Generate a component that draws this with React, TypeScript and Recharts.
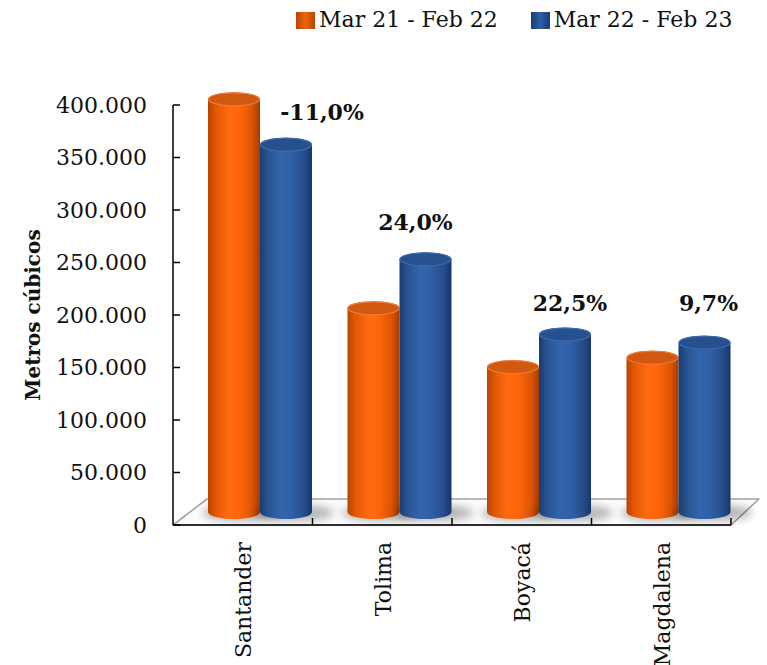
import React from 'react';
import { BarChart, Bar, XAxis, YAxis, Legend, LabelList } from 'recharts';

// ---- data ----
const regions = ['Santander', 'Tolima', 'Boyacá', 'Magdalena'];
const volumePrev = [393000, 194000, 138000, 147000];
const volumeCurr = [349800, 240600, 169000, 161300];
const changeLabels = ['-11,0%', '24,0%', '22,5%', '9,7%'];
const seriesNames = ['Mar 21 - Feb 22', 'Mar 22 - Feb 23'];
const yTicks = [0, 50000, 100000, 150000, 200000, 250000, 300000, 350000, 400000];
const axisTitle = 'Metros cúbicos';

const data = regions.map((region, i) => ({
  region,
  prev: volumePrev[i],
  curr: volumeCurr[i],
  change: changeLabels[i],
}));

// ---- layout ----
const W = 767;
const H = 665;
const X_AXIS_H = 30;
const MARGIN = { top: 105, right: 36, bottom: 140 - X_AXIS_H, left: 73 };
const Y_AXIS_W = 100;
const PLOT_LEFT = MARGIN.left + Y_AXIS_W;
const PLOT_RIGHT = W - MARGIN.right;
const PLOT_TOP = MARGIN.top;
const PLOT_BOTTOM = H - MARGIN.bottom - X_AXIS_H;
const BAND = (PLOT_RIGHT - PLOT_LEFT) / regions.length;
// bars stand half way into the floor's depth
const DEPTH = { dx: 17, dy: -13 };
const FONT = '"DejaVu Serif", serif';

const PALETTES = {
  orange: {
    id: 'cyl-orange',
    stops: ['#B94400', '#E35805', '#FF6A10', '#FF660B', '#DC5404', '#A33C00'],
    top: '#D2570F',
    rim: '#E97B3C',
    swatch: '#F0640A',
  },
  blue: {
    id: 'cyl-blue',
    stops: ['#1A3B72', '#28538F', '#3365AD', '#2F60A7', '#264D8A', '#18356A'],
    top: '#27508F',
    rim: '#3F6AAE',
    swatch: '#2F5EA5',
  },
};
const STOP_OFFSETS = [0, 0.15, 0.4, 0.6, 0.85, 1];

// per-label nudges for the change annotations
const LABEL_NUDGE: [number, number][] = [[36, 2], [-10, -2], [5, 3], [4, -5]];

const fmtThousands = (v: number) =>
  String(v).replace(/\B(?=(\d{3})+(?!\d))/g, '.');

function Cylinder(props: any) {
  const { x, y, width, height, palette } = props;
  if (width == null || height == null) return null;
  const p = (PALETTES as any)[palette];
  const x0 = x + DEPTH.dx;
  const top = y + DEPTH.dy;
  const bottom = y + height + DEPTH.dy;
  const rx = width / 2;
  const ry = 7;
  const cx = x0 + rx;
  const body = `M${x0},${top} L${x0},${bottom} A${rx},${ry} 0 0 0 ${x0 + width},${bottom} L${x0 + width},${top} A${rx},${ry} 0 0 0 ${x0},${top} Z`;
  return (
    <g>
      <defs>
        <linearGradient id={p.id} x1="0" y1="0" x2="1" y2="0">
          {p.stops.map((c: string, i: number) => (
            <stop key={i} offset={STOP_OFFSETS[i]} stopColor={c} />
          ))}
        </linearGradient>
        <filter id="base-blur" x="-60%" y="-200%" width="220%" height="500%">
          <feGaussianBlur stdDeviation="4" />
        </filter>
      </defs>
      <ellipse
        cx={cx + 8}
        cy={bottom + 1}
        rx={rx + 14}
        ry={8}
        fill="#000"
        opacity={0.28}
        filter="url(#base-blur)"
      />
      <path d={body} fill={`url(#${p.id})`} />
      <ellipse cx={cx} cy={top} rx={rx - 0.5} ry={ry - 0.5} fill={p.top} stroke={p.rim} strokeWidth={1.2} />
    </g>
  );
}

function ValueTick(props: any) {
  const { x, y, payload } = props;
  const axisX = PLOT_LEFT;
  return (
    <g>
      <line x1={axisX} x2={axisX + 7} y1={y} y2={y} stroke="#000" strokeWidth={1.5} />
      <text
        x={x}
        y={y}
        textAnchor="end"
        dominantBaseline="central"
        fontFamily={FONT}
        fontSize={22}
        fill="#111"
      >
        {fmtThousands(payload.value)}
      </text>
    </g>
  );
}

function RegionTick(props: any) {
  const { x, y, payload } = props;
  const edge = x + BAND / 2;
  return (
    <g>
      <line x1={edge} x2={edge} y1={PLOT_BOTTOM} y2={PLOT_BOTTOM - 7} stroke="#000" strokeWidth={1.5} />
      <text
        x={x + 1}
        y={y}
        transform={`rotate(-90, ${x + 1}, ${y})`}
        textAnchor="end"
        dominantBaseline="central"
        fontFamily={FONT}
        fontSize={22}
        fill="#111"
      >
        {payload.value}
      </text>
    </g>
  );
}

function ChangeLabel(props: any) {
  const { x, y, width, value, index } = props;
  const [nx, ny] = LABEL_NUDGE[index] || [0, 0];
  const cx = x + width / 2 + DEPTH.dx + nx;
  const cy = y + DEPTH.dy - 35 + ny;
  return (
    <text
      x={cx}
      y={cy}
      textAnchor="middle"
      dominantBaseline="central"
      fontFamily={FONT}
      fontWeight="bold"
      fontSize={22}
      fill="#111"
    >
      {value}
    </text>
  );
}

function SeriesLegend() {
  const items = [
    { name: seriesNames[0], color: PALETTES.orange.swatch, edge: PALETTES.orange.stops[0] },
    { name: seriesNames[1], color: PALETTES.blue.swatch, edge: PALETTES.blue.stops[0] },
  ];
  return (
    <div
      style={{
        display: 'flex',
        alignItems: 'center',
        paddingLeft: 296,
        height: 40,
        fontFamily: FONT,
        fontSize: 22,
        color: '#111',
      }}
    >
      {items.map((it, i) => (
        <div key={it.name} style={{ display: 'flex', alignItems: 'center', marginLeft: i === 0 ? 0 : 33 }}>
          <span
            style={{
              display: 'inline-block',
              width: 19,
              height: 17,
              background: `linear-gradient(90deg, ${it.edge}, ${it.color} 50%, ${it.edge})`,
              marginRight: 4,
            }}
          />
          <span style={{ whiteSpace: 'nowrap', lineHeight: '26px' }}>{it.name}</span>
        </div>
      ))}
    </div>
  );
}

// floor in oblique projection, behind the plot
function Floor() {
  const back = PLOT_BOTTOM + DEPTH.dy * 2;
  const pts = [
    [PLOT_LEFT, PLOT_BOTTOM],
    [PLOT_LEFT + DEPTH.dx * 2, back],
    [PLOT_RIGHT + 28, back],
    [PLOT_RIGHT, PLOT_BOTTOM],
  ]
    .map((p) => p.join(','))
    .join(' ');
  return (
    <svg width={W} height={H} style={{ position: 'absolute', left: 0, top: 0 }}>
      <polygon points={pts} fill="#fbfbfb" stroke="#a3a3a3" strokeWidth={1.6} strokeLinejoin="round" />
      <text
        x={PLOT_LEFT - 140}
        y={(PLOT_TOP + PLOT_BOTTOM) / 2}
        transform={`rotate(-90, ${PLOT_LEFT - 140}, ${(PLOT_TOP + PLOT_BOTTOM) / 2})`}
        textAnchor="middle"
        dominantBaseline="central"
        fontFamily={FONT}
        fontWeight="bold"
        fontSize={20}
        fill="#111"
      >
        {axisTitle}
      </text>
    </svg>
  );
}

export default function App() {
  return (
    <div style={{ position: 'absolute', left: 0, top: 0, width: W, height: H, background: '#fff' }}>
      <Floor />
      <div style={{ position: 'absolute', left: 0, top: 0 }}>
        <BarChart
          width={W}
          height={H}
          data={data}
          margin={MARGIN}
          barCategoryGap={18}
          barGap={0}
        >
          <XAxis
            dataKey="region"
            height={X_AXIS_H}
            axisLine={{ stroke: '#000', strokeWidth: 1.5 }}
            tickLine={false}
            tickSize={0}
            tickMargin={17}
            interval={0}
            tick={<RegionTick />}
          />
          <YAxis
            width={Y_AXIS_W}
            domain={[0, 400000]}
            ticks={yTicks}
            interval={0}
            axisLine={{ stroke: '#000', strokeWidth: 1.5 }}
            tickLine={false}
            tickSize={0}
            tickMargin={26}
            tick={<ValueTick />}
          />
          <Legend
            layout="horizontal"
            verticalAlign="middle"
            align="center"
            wrapperStyle={{ position: 'absolute', top: 0, left: 0, width: W }}
            content={<SeriesLegend />}
          />
          <Bar
            dataKey="prev"
            name={seriesNames[0]}
            fill={PALETTES.orange.swatch}
            isAnimationActive={false}
            shape={(p: any) => <Cylinder {...p} palette="orange" />}
          />
          <Bar
            dataKey="curr"
            name={seriesNames[1]}
            fill={PALETTES.blue.swatch}
            isAnimationActive={false}
            shape={(p: any) => <Cylinder {...p} palette="blue" />}
          >
            <LabelList dataKey="change" content={<ChangeLabel />} />
          </Bar>
        </BarChart>
      </div>
    </div>
  );
}
